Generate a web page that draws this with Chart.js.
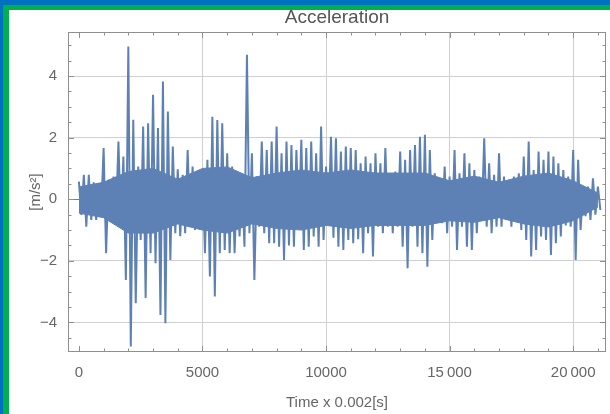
<!DOCTYPE html>
<html>
<head>
<meta charset="utf-8">
<script src="https://cdn.jsdelivr.net/npm/chart.js@4.4.0/dist/chart.umd.min.js"></script>
<style>
  html, body { margin: 0; padding: 0; }
  body { width: 610px; height: 414px; background: #0070c0; position: relative; overflow: hidden; }
  #frame { position: absolute; left: 3px; top: 5px; right: 0; bottom: 0; background: #fff;
           border-left: 6px solid #00b050; border-top: 5px solid #00b050; }
  #chart { position: absolute; left: 0; top: 0; }
</style>
</head>
<body>
<div id="frame"></div>
<canvas id="chart" width="610" height="414"></canvas>
<script>
const binSize = 200;

const peakHigh = [
  0.57, 0.79, 0.79, 0.55, 0.52, 1.66, 0.63, 0.74, 1.87, 1.39,
  4.96, 2.58, 1.06, 2.36, 2.47, 3.39, 2.31, 3.82, 2.85, 1.71,
  0.97, 0.79, 1.60, 1.06, 0.79, 0.95, 1.28, 2.68, 2.57, 2.47,
  1.49, 1.06, 0.68, 0.52, 4.69, 1.49, 0.74, 1.87, 1.60, 1.87,
  2.36, 1.49, 1.87, 1.76, 1.60, 1.93, 1.66, 1.87, 1.49, 2.36,
  1.06, 2.03, 1.98, 1.55, 1.71, 1.66, 1.60, 1.17, 1.39, 1.17,
  1.49, 1.17, 1.66, 0.74, 0.90, 1.55, 1.28, 1.60, 1.76, 2.03,
  2.09, 1.60, 0.84, 0.52, 1.06, 0.74, 1.60, 0.84, 1.49, 1.17,
  0.95, 0.74, 1.98, 1.17, 0.79, 1.49, 0.74, 0.63, 0.74, 0.84,
  1.39, 1.87, 0.95, 1.55, 1.28, 1.55, 1.39, 1.17, 0.95, 0.74,
  1.60, 1.28, 0.30, 0.41, 0.68, 0.41
];

const peakLow = [
  -0.51, -0.89, -0.67, -0.67, -0.45, -1.75, -0.67, -0.67, -0.89, -2.62,
  -4.78, -3.38, -1.32, -3.21, -1.75, -2.08, -3.76, -4.03, -1.97, -1.10,
  -1.20, -1.10, -0.89, -1.00, -1.00, -1.75, -2.51, -3.16, -1.75, -1.65,
  -1.75, -1.75, -1.21, -1.54, -1.10, -2.62, -0.89, -1.10, -1.43, -1.43,
  -1.54, -1.97, -1.50, -1.54, -0.89, -1.65, -1.54, -1.21, -1.54, -1.32,
  -0.67, -1.25, -1.54, -1.65, -1.32, -1.43, -1.30, -1.75, -1.10, -1.86,
  -0.89, -1.10, -0.89, -1.10, -0.89, -1.54, -2.24, -0.89, -1.54, -1.75,
  -2.19, -1.32, -0.67, -0.78, -1.10, -0.89, -1.65, -0.89, -1.54, -1.65,
  -1.10, -0.67, -0.89, -1.10, -0.89, -0.89, -0.67, -0.89, -0.67, -1.00,
  -1.32, -1.86, -1.65, -1.21, -1.32, -1.81, -1.43, -1.21, -0.85, -0.89,
  -1.97, -1.00, -0.55, -0.67, -0.50, -0.35
];

// solid inner part of the trace, read per 1000 samples
const coreStep = 1000;
const coreHigh = [0.40, 0.55, 0.90, 1.00, 0.65, 1.00, 1.05, 0.70, 0.85, 0.95, 0.85,
                  0.95, 0.85, 0.85, 0.85, 0.60, 0.75, 0.55, 0.75, 0.85, 0.60, 0.20];
const coreLow = [-0.45, -0.60, -1.10, -1.10, -0.80, -1.00, -1.10, -0.80, -0.95, -1.00, -0.85,
                 -0.95, -0.85, -0.85, -0.85, -0.70, -0.75, -0.60, -0.80, -0.90, -0.70, -0.25];

const xTicks = [0, 5000, 10000, 15000, 20000];
const xTickLabels = ['0', '5000', '10000', '15\u2009000', '20\u2009000'];
const yTicks = [-4, -2, 0, 2, 4];
const yTickLabels = ['\u22124', '\u22122', '0', '2', '4'];

const xMin = -441, xMax = 21328;
const yMin = -4.96, yMax = 5.43;
const xMinorStep = 1000, yMinorStep = 0.5;

const lineColor = '#5e81b5';
const fontFamily = '"Liberation Sans", Arial, sans-serif';

// swing max -> min -> next max, so the dense signal shows spikes
const points = [];
peakHigh.forEach((v, i) => {
    points.push({ x: i * binSize, y: v });
    points.push({ x: i * binSize + binSize / 2, y: peakLow[i] });
});
const coreTop = coreHigh.map((v, i) => ({ x: i * coreStep, y: v }));
const coreBottom = coreLow.map((v, i) => ({ x: i * coreStep, y: v }));

// frame box with inward ticks on all four sides (Mathematica style)
const frameTicks = {
    id: 'frameTicks',
    afterDatasetsDraw(chart) {
        const { ctx, chartArea: a, scales } = chart;
        const x = scales.x, y = scales.y;
        ctx.save();
        ctx.strokeStyle = '#8f8f8f';
        ctx.lineWidth = 1;
        ctx.strokeRect(a.left + 0.5, a.top + 0.5, a.right - a.left - 1, a.bottom - a.top - 1);
        ctx.beginPath();
        for (let v = Math.ceil(x.min / xMinorStep) * xMinorStep; v <= x.max; v += xMinorStep) {
            const px = Math.round(x.getPixelForValue(v)) + 0.5;
            const len = xTicks.includes(v) ? 6 : 3.5;
            ctx.moveTo(px, a.bottom); ctx.lineTo(px, a.bottom - len);
            ctx.moveTo(px, a.top); ctx.lineTo(px, a.top + len);
        }
        for (let v = Math.ceil(y.min / yMinorStep) * yMinorStep; v <= y.max; v += yMinorStep) {
            const py = Math.round(y.getPixelForValue(v)) + 0.5;
            const len = yTicks.includes(v) ? 6 : 3.5;
            ctx.moveTo(a.left, py); ctx.lineTo(a.left + len, py);
            ctx.moveTo(a.right, py); ctx.lineTo(a.right - len, py);
        }
        ctx.stroke();
        ctx.restore();
    }
};

const ctx = document.getElementById('chart').getContext('2d');
new Chart(ctx, {
    type: 'line',
    data: {
        datasets: [{
            data: points,
            borderColor: lineColor,
            borderWidth: 2,
            pointRadius: 0,
            tension: 0,
            fill: false
        }, {
            data: coreTop,
            borderColor: lineColor,
            backgroundColor: lineColor,
            borderWidth: 1,
            pointRadius: 0,
            tension: 0,
            fill: '+1'
        }, {
            data: coreBottom,
            borderColor: lineColor,
            borderWidth: 1,
            pointRadius: 0,
            tension: 0,
            fill: false
        }]
    },
    options: {
        responsive: false,
        animation: false,
        devicePixelRatio: 1,
        layout: { padding: { left: 0, right: 4, top: 0, bottom: 0 } },
        plugins: {
            legend: { display: false },
            tooltip: { enabled: false }
        },
        scales: {
            x: {
                type: 'linear',
                position: 'bottom',
                min: xMin,
                max: xMax,
                afterFit: s => { s.height = 62; },
                afterBuildTicks: s => { s.ticks = xTicks.map(v => ({ value: v })); },
                border: { display: false },
                grid: {
                    drawTicks: false,
                    color: c => (c.tick && c.tick.value === 0) ? 'rgba(0,0,0,0)' : '#d0d0d0'
                },
                ticks: {
                    autoSkip: false,
                    maxRotation: 0,
                    padding: 12,
                    color: '#666',
                    font: { family: fontFamily, size: 15 },
                    callback: (v, i) => xTickLabels[i]
                },
                title: {
                    display: true,
                    text: 'Time x 0.002[s]',
                    color: '#666',
                    font: { family: fontFamily, size: 15 },
                    padding: { top: 0, bottom: 2 }
                }
            },
            top: {
                type: 'linear',
                axis: 'x',
                position: 'top',
                min: xMin,
                max: xMax,
                afterFit: s => { s.height = 32; },
                border: { display: false },
                grid: { display: false },
                ticks: { display: false },
                title: {
                    display: true,
                    text: 'Acceleration',
                    color: '#555',
                    font: { family: fontFamily, size: 19 },
                    padding: { top: 6, bottom: 0 }
                }
            },
            y: {
                min: yMin,
                max: yMax,
                afterFit: s => { s.width = 68; },
                afterBuildTicks: s => { s.ticks = yTicks.map(v => ({ value: v })); },
                border: { display: false },
                grid: {
                    drawTicks: false,
                    color: c => (c.tick && c.tick.value === 0) ? '#7d7d7d' : '#d0d0d0'
                },
                ticks: {
                    padding: 11,
                    color: '#666',
                    font: { family: fontFamily, size: 15 },
                    callback: (v, i) => yTickLabels[i]
                },
                title: {
                    display: true,
                    text: '[m/s\u00b2]',
                    color: '#666',
                    font: { family: fontFamily, size: 15 },
                    padding: { top: 27, bottom: 0 }
                }
            }
        }
    },
    plugins: [frameTicks]
});
</script>
</body>
</html>
